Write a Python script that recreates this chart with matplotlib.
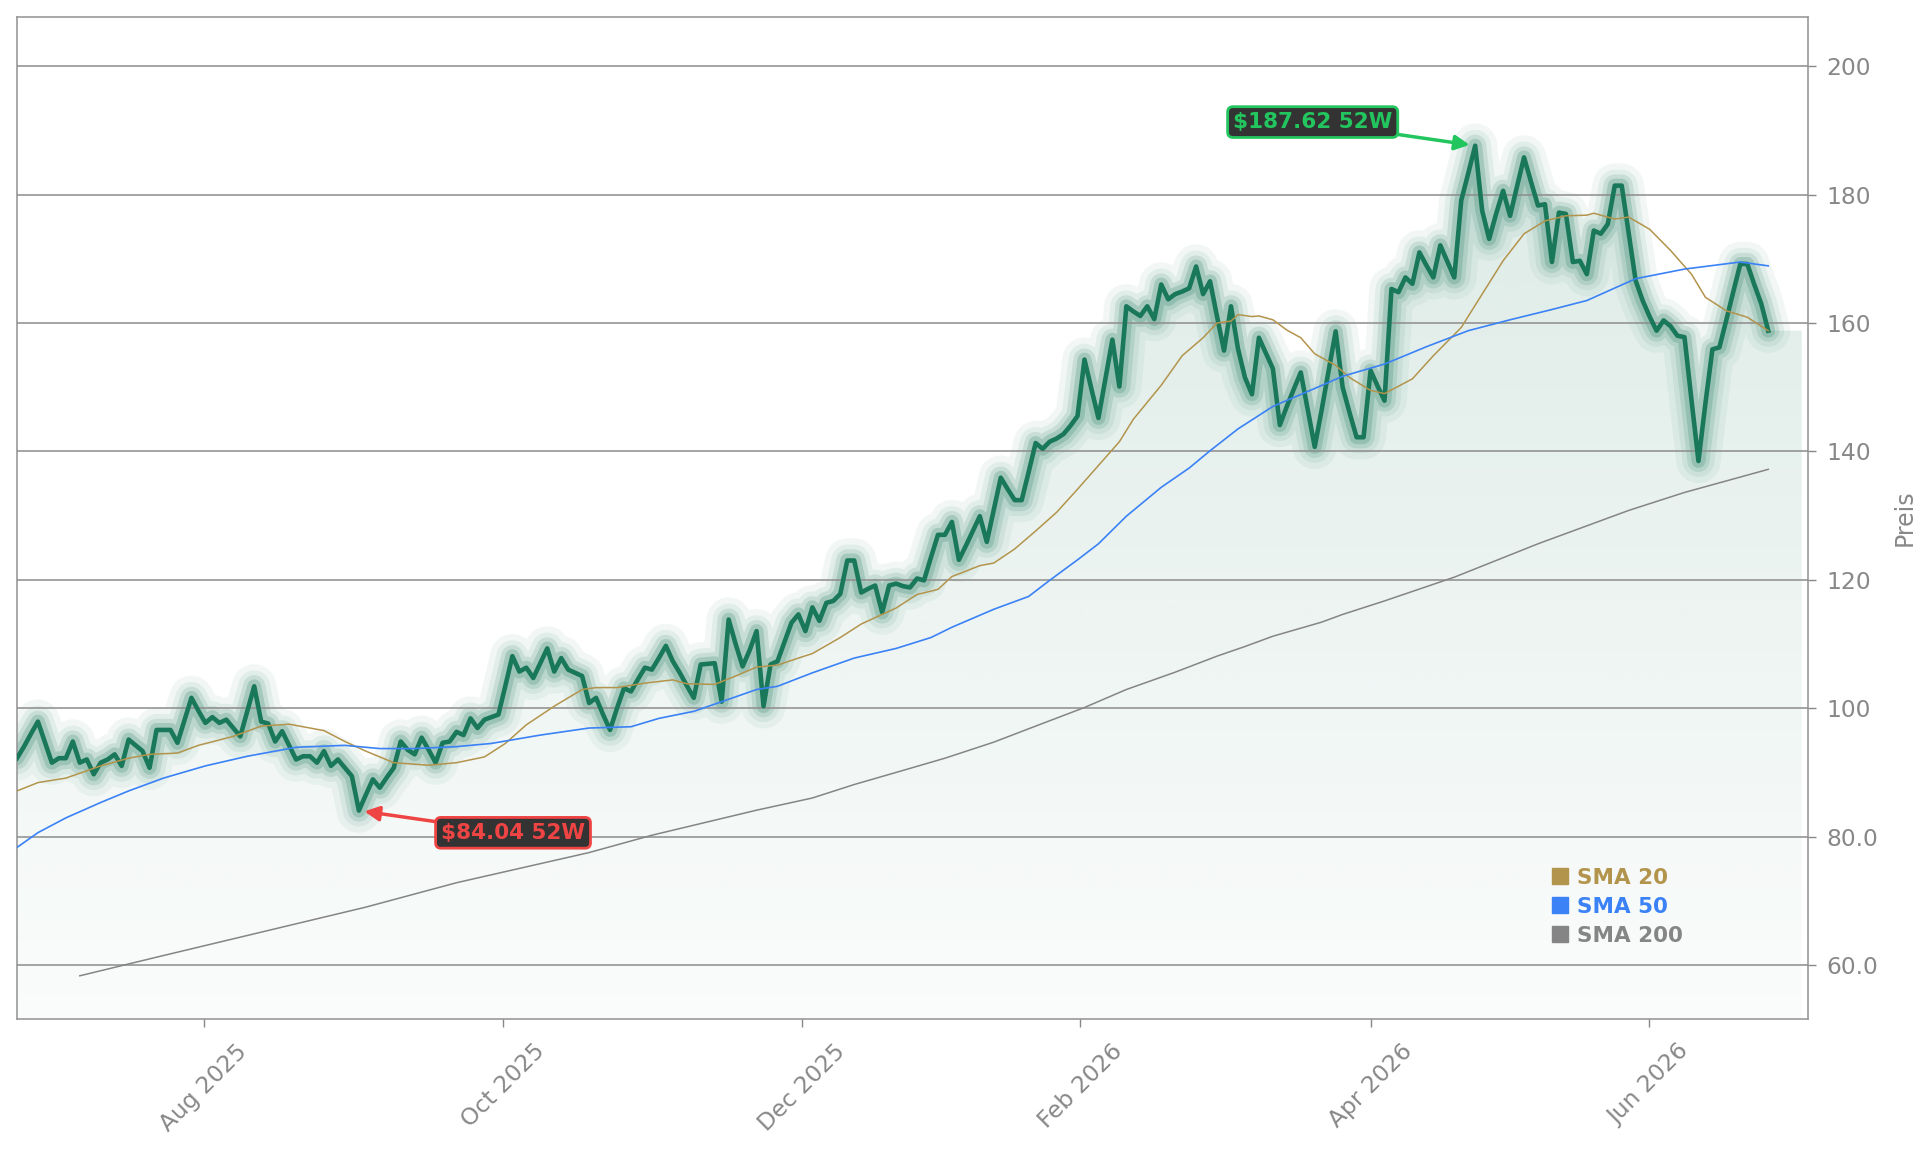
import numpy as np
import matplotlib.pyplot as plt
from matplotlib.lines import Line2D
from matplotlib.patches import Polygon
from matplotlib.ticker import FuncFormatter

# daily closes (one value per trading day)
price = [
    92.2, 94.0, 96.0, 97.9, 94.7, 91.5, 92.2, 92.2, 94.8, 91.5,
    92.0, 89.7, 91.5, 92.0, 92.8, 91.0, 95.1, 94.2, 93.3, 90.7,
    96.6, 96.6, 96.6, 94.6, 98.1, 101.6, 99.6, 97.7, 98.6, 97.7,
    98.2, 96.9, 95.6, 99.5, 103.4, 97.9, 97.6, 94.8, 96.4, 94.2,
    92.0, 92.5, 92.5, 91.5, 93.3, 91.0, 92.0, 90.7, 89.4, 84.04,
    86.5, 88.9, 87.6, 89.2, 90.7, 94.8, 93.5, 92.8, 95.4, 93.5,
    91.5, 94.6, 94.8, 96.3, 95.8, 98.4, 96.9, 98.2, 98.6, 99.0,
    103.5, 108.1, 105.7, 106.3, 104.7, 107.0, 109.3, 105.7, 107.8, 106.0,
    105.5, 105.0, 100.8, 101.6, 99.0, 96.6, 100.0, 103.1, 102.6, 104.5,
    106.3, 106.0, 107.8, 109.7, 107.3, 105.5, 103.5, 101.6, 106.8, 106.9,
    107.0, 101.0, 113.8, 110.0, 106.5, 109.0, 112.0, 100.3, 106.8, 107.3,
    110.3, 113.3, 114.6, 112.0, 115.7, 113.6, 116.4, 116.7, 117.8, 123.0,
    123.0, 118.0, 118.6, 119.1, 114.9, 119.1, 119.4, 119.0, 118.8, 120.2,
    119.9, 123.5, 127.0, 127.0, 129.0, 123.1, 125.3, 127.6, 129.9, 125.9,
    130.9, 135.9, 134.1, 132.4, 132.4, 136.8, 141.3, 140.4, 141.5, 142.0,
    142.7, 144.0, 145.5, 154.3, 149.7, 145.2, 151.3, 157.4, 150.1, 162.6,
    161.8, 161.1, 162.6, 160.6, 166.0, 163.7, 164.5, 164.9, 165.4, 168.8,
    164.5, 166.5, 161.0, 155.7, 162.6, 156.0, 151.5, 148.9, 157.7, 155.3,
    152.9, 144.1, 147.0, 149.7, 152.3, 146.5, 140.7, 146.5, 152.6, 158.7,
    150.0, 146.0, 142.2, 142.2, 152.6, 150.2, 147.9, 165.3, 164.8, 167.1,
    166.1, 171.0, 169.0, 167.1, 172.1, 169.6, 167.1, 179.1, 183.3, 187.62,
    177.5, 173.1, 177.0, 180.6, 176.7, 181.3, 185.8, 182.0, 178.3, 178.5,
    169.5, 177.2, 177.0, 169.5, 169.7, 167.6, 174.4, 173.9, 175.4, 181.4,
    181.4, 174.0, 166.6, 163.5, 161.0, 158.8, 160.4, 159.5, 158.0, 157.8,
    148.0, 138.5, 147.5, 155.9, 156.2, 160.5, 164.9, 169.2, 169.2, 166.0,
    163.0, 158.8,
]

sma20_x = [0, 3, 7, 12, 16, 19, 23, 26, 31, 35, 39, 44, 47, 50, 54, 59, 63, 67,
           70, 73, 77, 81, 83, 86, 90, 94, 96, 100, 103, 106, 109, 112, 114, 118,
           121, 124, 126, 129, 132, 134, 138, 140, 143, 146, 149, 152, 155, 158,
           160, 164, 167, 170, 172, 174, 175, 177, 178, 180, 182, 184, 186, 189,
           191, 194, 196, 200, 203, 207, 210, 213, 216, 219, 222, 225, 226, 229,
           231, 234, 237, 240, 242, 245, 248, 251]
sma20 = [87.1, 88.4, 89.1, 91.0, 92.2, 92.8, 93.0, 94.2, 95.6, 97.2, 97.5, 96.5,
         94.8, 93.3, 91.5, 91.1, 91.5, 92.4, 94.5, 97.4, 100.3, 102.9, 103.2,
         103.2, 103.9, 104.4, 103.8, 103.7, 105.0, 106.4, 106.7, 107.8, 108.5,
         111.0, 113.1, 114.6, 115.6, 117.7, 118.5, 120.5, 122.2, 122.6, 124.8,
         127.6, 130.5, 134.1, 137.8, 141.5, 145.0, 150.3, 154.9, 157.7, 160.0,
         160.3, 161.3, 161.0, 161.1, 160.5, 158.9, 157.7, 155.2, 153.4, 151.5,
         149.5, 149.0, 151.3, 154.9, 159.3, 164.5, 169.7, 173.9, 175.9, 176.7,
         176.8, 177.1, 176.2, 176.5, 174.6, 171.3, 167.6, 164.0, 161.9, 160.9,
         158.8]

sma50_x = [0, 3, 7, 12, 16, 21, 27, 33, 40, 47, 52, 57, 63, 68, 75, 82, 88, 92,
           97, 101, 106, 109, 114, 120, 126, 131, 134, 140, 145, 148, 152, 155,
           159, 164, 168, 171, 175, 180, 186, 190, 196, 202, 208, 214, 220, 225,
           232, 239, 247, 251]
sma50 = [78.3, 80.6, 82.9, 85.3, 87.1, 89.1, 91.0, 92.5, 93.9, 94.2, 93.7, 93.7,
         94.0, 94.5, 95.8, 96.9, 97.1, 98.4, 99.5, 101.0, 102.9, 103.4, 105.5,
         107.8, 109.3, 111.0, 112.6, 115.4, 117.4, 119.9, 123.1, 125.6, 129.9,
         134.4, 137.4, 140.1, 143.5, 147.0, 149.8, 151.7, 153.6, 156.3, 158.8,
         160.5, 162.1, 163.5, 166.9, 168.4, 169.5, 168.9]

sma200_x = [9, 20, 30, 40, 50, 63, 82, 91, 106, 114, 120, 127, 133, 140, 146,
            153, 159, 166, 172, 176, 180, 187, 190, 196, 206, 218, 231, 239, 245,
            251]
sma200 = [58.3, 61.2, 63.8, 66.4, 69.0, 72.8, 77.5, 80.2, 84.1, 86.0, 88.1, 90.3,
          92.2, 94.7, 97.2, 100.1, 102.9, 105.6, 108.1, 109.6, 111.2, 113.4, 114.6,
          116.7, 120.4, 125.6, 130.8, 133.6, 135.4, 137.2]

tick_pos = [26.8, 69.7, 112.5, 152.4, 194.0, 233.9]
tick_labels = ['Aug 2025', 'Oct 2025', 'Dec 2025', 'Feb 2026', 'Apr 2026', 'Jun 2026']

GREEN = '#1a785a'
GOLD = '#b3944c'
BLUE = '#3b82f6'
GREY = '#858585'
TXT = '#888888'

x = np.arange(len(price))
y = np.array(price)
ylo, yhi = 51.57, 207.67
x_end = x[-1] + 4.8

fig = plt.figure(figsize=(19.29, 11.51), dpi=100)
ax = fig.add_axes([17 / 1929, 1 - 1019 / 1151, 1791 / 1929, 1002 / 1151])

# gradient fill under the price
grad = np.linspace(0, 1, 256).reshape(-1, 1)
rgba = np.zeros((256, 1, 4))
rgba[..., :3] = np.array([26, 120, 90]) / 255
rgba[..., 3] = 0.02 + 0.13 * grad
im = ax.imshow(rgba, extent=[0, x_end, ylo, y.max()], origin='lower',
               aspect='auto', zorder=1, interpolation='bilinear')
verts = [(0, ylo)] + list(zip(x, y)) + [(x_end, y[-1]), (x_end, ylo)]
clip = Polygon(verts, closed=True, facecolor='none', edgecolor='none')
ax.add_patch(clip)
im.set_clip_path(clip)

# glow around the price line
for lw, a in [(32, 0.055), (23, 0.08), (16, 0.13), (10, 0.2)]:
    ax.plot(x, y, color=GREEN, lw=lw, alpha=a, solid_joinstyle='round',
            solid_capstyle='round', zorder=2)
ax.plot(x, y, color=GREEN, lw=3.3, solid_joinstyle='round', zorder=4)

ax.plot(sma20_x, sma20, color=GOLD, lw=1.1, zorder=5)
ax.plot(sma50_x, sma50, color=BLUE, lw=1.2, zorder=5)
ax.plot(sma200_x, sma200, color=GREY, lw=1.1, zorder=5)

ax.set_xlim(0, 256.7)
ax.set_ylim(ylo, yhi)

ax.set_axisbelow(False)
ax.yaxis.grid(True, color='#8c8c8c', lw=1.1)
ax.xaxis.grid(False)
ax.yaxis.tick_right()
ax.yaxis.set_label_position('right')
ax.set_yticks([60, 80, 100, 120, 140, 160, 180, 200])
ax.yaxis.set_major_formatter(FuncFormatter(lambda v, p: f'{v:.0f}' if v >= 100 else f'{v:.1f}'))
ax.set_xticks(tick_pos)
ax.set_xticklabels(tick_labels, rotation=45, ha='center')
ax.tick_params(axis='both', colors=TXT, labelsize=16.8, length=6, width=1)
ax.tick_params(axis='y', pad=7)
ax.tick_params(axis='x', pad=9)
ax.set_ylabel('Preis', color=TXT, fontsize=17, labelpad=11)
for s in ax.spines.values():
    s.set_color('#999999')
    s.set_linewidth(1.2)

# 52-week high / low markers
i_hi = int(np.argmax(y))
i_lo = int(np.argmin(y))
ax.annotate(f'${y[i_hi]:.2f} 52W', xy=(i_hi, y[i_hi]), xytext=(-117, 17),
            textcoords='offset points', ha='center', va='center',
            color='#22c55e', fontsize=15.5, fontweight='bold', zorder=6,
            bbox=dict(boxstyle='round,pad=0.25', fc='#333333', ec='#22c55e', lw=2),
            arrowprops=dict(arrowstyle='-|>', color='#22c55e', lw=2.5,
                            mutation_scale=22, shrinkA=0, shrinkB=4))
ax.annotate(f'${y[i_lo]:.2f} 52W', xy=(i_lo, y[i_lo]), xytext=(111, -16),
            textcoords='offset points', ha='center', va='center',
            color='#ef4444', fontsize=15.5, fontweight='bold', zorder=6,
            bbox=dict(boxstyle='round,pad=0.25', fc='#333333', ec='#ef4444', lw=2),
            arrowprops=dict(arrowstyle='-|>', color='#ef4444', lw=2.5,
                            mutation_scale=22, shrinkA=0, shrinkB=4))

handles = [Line2D([], [], marker='s', ls='none', color=c, markersize=11.5)
           for c in (GOLD, BLUE, GREY)]
leg = ax.legend(handles, ['SMA 20', 'SMA 50', 'SMA 200'], loc='upper left',
                bbox_to_anchor=(0.8565, 0.151), frameon=False, borderpad=0,
                borderaxespad=0, handlelength=0.8, handletextpad=0.4,
                labelspacing=0.42, prop={'size': 15.5, 'weight': 'bold'})
for t, c in zip(leg.get_texts(), (GOLD, BLUE, GREY)):
    t.set_color(c)

fig.savefig('out.png', dpi=100)
